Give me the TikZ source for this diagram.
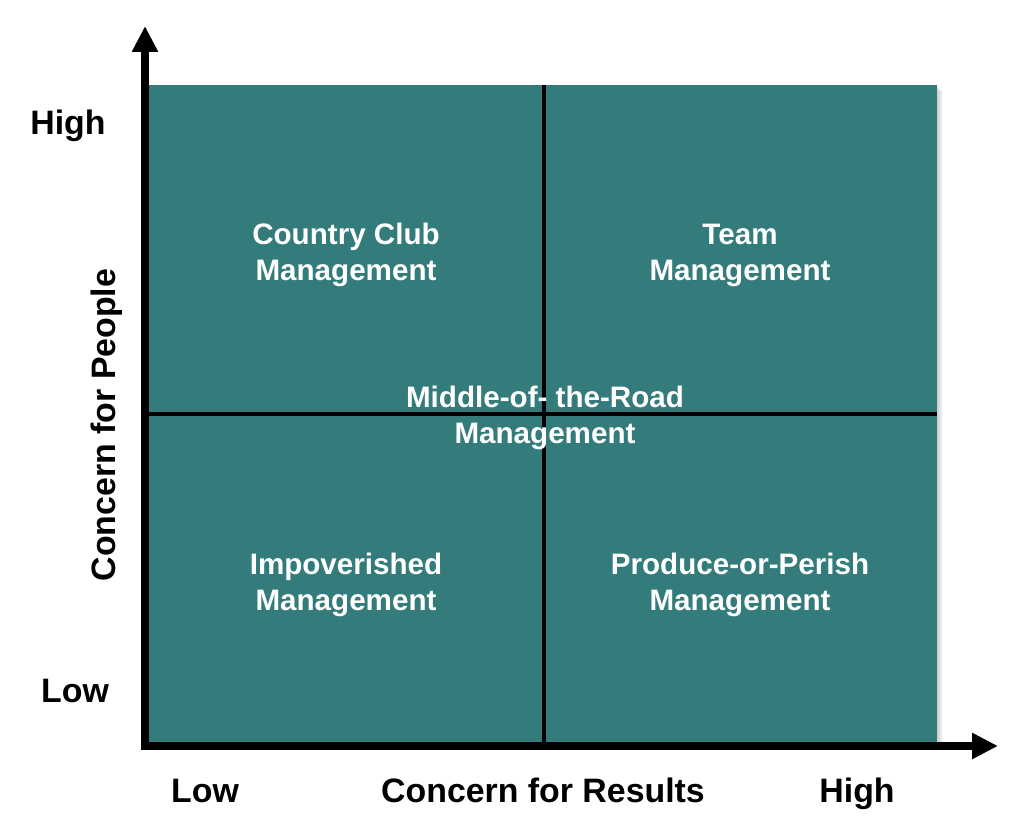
\documentclass[tikz,border=0pt]{standalone}
\usepackage{fontspec}
\setmainfont{Liberation Sans}
\usetikzlibrary{arrows.meta}
\definecolor{teal1}{RGB}{52,123,124}
\tikzset{
  quad/.style={text=white, font=\bfseries\fontsize{22.2}{27}\selectfont, align=center},
  axlab/.style={text=black, font=\bfseries\fontsize{25.4}{30}\selectfont, text height=18.3pt, text depth=0pt},
  axis/.style={line width=6pt, -{Triangle[length=19.5pt,width=18.5pt]}},
  divider/.style={line width=2.6pt, black}
}
\begin{document}
\begin{tikzpicture}[x=0.75pt,y=-0.75pt]
\useasboundingbox (0,0) rectangle (1024,830);
% soft shadow
\foreach \i in {1,...,6}{
  \fill[black, opacity=0.035] (148+\i,85+\i) rectangle (937+\i,742+\i);
}
\fill[teal1] (148,85) rectangle (937,742);
\coordinate (vt) at (544,85);
\coordinate (vb) at (544,742);
\coordinate (hl) at (148,414);
\coordinate (hr) at (937,414);
\draw[divider] (vt) -- (vb);
\draw[divider] (hl) -- (hr);
% axes
\coordinate (ybase) at (145,750);
\coordinate (xbase) at (141,746);
\coordinate (ytip) at (145,26);
\coordinate (xtip) at (998,746);
\draw[axis] (ybase) -- (ytip);
\draw[axis] (xbase) -- (xtip);
% quadrant labels
\node[quad] (cc) at (346,255) {Country Club\\Management};
\node[quad] (tm) at (740,255) {Team\\Management};
\node[quad] (mr) at (545,418) {Middle-of- the-Road\\Management};
\node[quad] (im) at (346,585) {Impoverished\\Management};
\node[quad] (pp) at (740,585) {Produce-or-Perish\\Management};
% axis labels
\node[axlab] (yhigh) at (68,122) {High};
\node[axlab] (ylow) at (75,690) {Low};
\node[axlab] (xlow) at (205,790) {Low};
\node[axlab] (xlab) at (543,790) {Concern for Results};
\node[axlab] (xhigh) at (857,790) {High};
\node[axlab, rotate=90] (ylab) at (103,425) {Concern for People};
\end{tikzpicture}
\end{document}
